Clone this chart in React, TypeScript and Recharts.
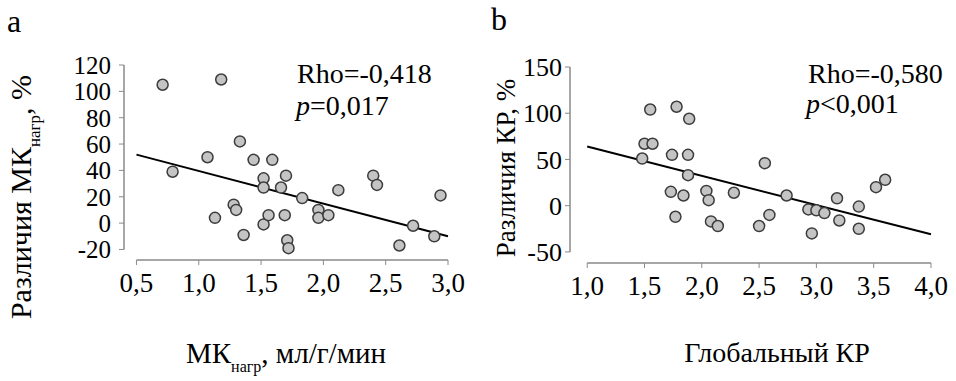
import React from 'react'
import { ScatterChart, Scatter, XAxis, YAxis, ReferenceLine } from 'recharts'

// panel a: МК нагр vs difference, %
const mkX = [0.71, 1.18, 0.79, 1.07, 1.13, 1.33, 1.28, 1.3, 1.36, 1.44, 1.59, 1.52, 1.52, 1.52, 1.56, 1.66, 1.7, 1.69, 1.71, 1.72, 1.83, 1.96, 1.96, 2.04, 2.12, 2.4, 2.43, 2.61, 2.72, 2.89, 2.94]
const mkY = [105, 109, 39, 50, 4, 62, 14, 10, -9, 48, 48, 34, 27, -1, 6, 27, 36, 6, -13, -19, 19, 10, 4, 6, 25, 36, 29, -17, -2, -10, 21]
const mkFit = [52, -10] // at x = 0.5 and 3.0
const mkXTicks = [0.5, 1.0, 1.5, 2.0, 2.5, 3.0]
const mkYTicks = [-20, 0, 20, 40, 60, 80, 100, 120]

// panel b: global KP vs difference, %
const krX = [1.48, 1.5, 1.57, 1.55, 1.78, 1.89, 1.74, 1.88, 1.88, 1.73, 1.77, 1.84, 2.04, 2.06, 2.08, 2.14, 2.28, 2.5, 2.55, 2.59, 2.74, 2.93, 2.96, 3.0, 3.07, 3.18, 3.2, 3.37, 3.37, 3.52, 3.6]
const krY = [51, 67, 67, 104, 107, 94, 55, 55, 33, 15, -12, 11, 16, 6, -17, -22, 14, -22, 46, -10, 11, -4, -30, -5, -8, 8, -16, -1, -25, 20, 28]
const krFit = [64, -31] // at x = 1.0 and 4.0
const krXTicks = [1.0, 1.5, 2.0, 2.5, 3.0, 3.5, 4.0]
const krYTicks = [-50, 0, 50, 100, 150]

const FONT = "'Liberation Serif', 'DejaVu Serif', serif"
const AXIS = '#8a8a8a'

const zip = (xs: number[], ys: number[]) => xs.map((x, i) => ({ x, y: ys[i] }))
const comma = (v: number) => v.toFixed(1).replace('.', ',')

const Dot = (props: any) => (
  <circle cx={props.cx} cy={props.cy} r={5.5} fill="#c4c4c4" stroke="#3c3c3c" strokeWidth={1.5} />
)

type PanelProps = {
  width: number
  data: { x: number; y: number }[]
  xDomain: [number, number]
  yDomain: [number, number]
  xTicks: number[]
  yTicks: number[]
  fit: number[]
  margin: { top: number; right: number; bottom: number; left: number }
  tickMargin: number
  yFont: number
}

const tickStyle = (size: number) => ({ fill: '#000', fontSize: size, style: { fontFamily: FONT } })

const Panel = ({ width, data, xDomain, yDomain, xTicks, yTicks, fit, margin, tickMargin, yFont }: PanelProps) => {
  const x0 = xTicks[0]
  const x1 = xTicks[xTicks.length - 1]
  return (
    <ScatterChart width={width} height={381} margin={margin} style={{ fontFamily: FONT }}>
      <XAxis
        type="number"
        dataKey="x"
        domain={xDomain}
        ticks={xTicks}
        interval={0}
        allowDataOverflow
        axisLine={false}
        tickLine={{ stroke: AXIS }}
        tickSize={5}
        tickMargin={8}
        tickFormatter={comma}
        tick={tickStyle(27)}
      />
      <YAxis
        type="number"
        dataKey="y"
        width={60}
        domain={yDomain}
        ticks={yTicks}
        interval={0}
        allowDataOverflow
        axisLine={false}
        tickLine={{ stroke: AXIS }}
        tickSize={5}
        tickMargin={tickMargin}
        tick={tickStyle(yFont)}
      />
      <ReferenceLine
        segment={[{ x: xDomain[0], y: yTicks[0] }, { x: xDomain[0], y: yTicks[yTicks.length - 1] }]}
        stroke={AXIS}
        strokeWidth={1.5}
        ifOverflow="visible"
      />
      <ReferenceLine
        segment={[{ x: x0, y: yDomain[0] }, { x: x1, y: yDomain[0] }]}
        stroke={AXIS}
        strokeWidth={1.5}
        ifOverflow="visible"
      />
      <ReferenceLine
        segment={[{ x: x0, y: fit[0] }, { x: x1, y: fit[1] }]}
        stroke="#000"
        strokeWidth={2}
        ifOverflow="visible"
      />
      <Scatter data={data} shape={Dot} isAnimationActive={false} />
    </ScatterChart>
  )
}

const App = () => {
  return (
    <div style={{ position: 'absolute', left: 0, top: 0, width: 956, height: 381, background: '#fff', fontFamily: FONT }}>
      <div style={{ position: 'absolute', left: 0, top: 0 }}>
        <Panel
          width={470}
          data={zip(mkX, mkY)}
          xDomain={[0.4, 3.0]}
          yDomain={[-28, 120]}
          xTicks={mkXTicks}
          yTicks={mkYTicks}
          fit={mkFit}
          margin={{ top: 65, right: 22, bottom: 91, left: 64 }}
          tickMargin={8}
          yFont={25}
        />
      </div>
      <div style={{ position: 'absolute', left: 470, top: 0 }}>
        <Panel
          width={486}
          data={zip(krX, krY)}
          xDomain={[0.85, 4.0]}
          yDomain={[-62, 150]}
          xTicks={krXTicks}
          yTicks={krYTicks}
          fit={krFit}
          margin={{ top: 67, right: 25, bottom: 88, left: 40 }}
          tickMargin={3}
          yFont={26}
        />
      </div>
      <svg width={956} height={381} style={{ position: 'absolute', left: 0, top: 0, pointerEvents: 'none', fontFamily: FONT }}>
        <g fill="#000">
          <text x={7} y={32} fontSize={32}>a</text>
          <text x={491} y={30} fontSize={32}>b</text>

          <text x={297} y={83} fontSize={28}>Rho=-0,418</text>
          <text x={296} y={115} fontSize={28}><tspan fontStyle="italic">p</tspan>=0,017</text>
          <text x={808} y={83} fontSize={28}>Rho=-0,580</text>
          <text x={806} y={113} fontSize={28}><tspan fontStyle="italic">p</tspan>&lt;0,001</text>

          <text x={286} y={363} fontSize={29} textAnchor="middle">
            МК<tspan fontSize={16} dy={9}>нагр</tspan><tspan dy={-9}>, мл/г/мин</tspan>
          </text>
          <text x={777} y={362} fontSize={28} textAnchor="middle">Глобальный КР</text>

          <text transform="translate(31 197) rotate(-90)" fontSize={30} textAnchor="middle">
            Различия МК<tspan fontSize={17} dy={9}>нагр</tspan><tspan dy={-9}>, %</tspan>
          </text>
          <text transform="translate(515 168) rotate(-90)" fontSize={27} textAnchor="middle">Различия КР, %</text>
        </g>
      </svg>
    </div>
  )
}

export default App
